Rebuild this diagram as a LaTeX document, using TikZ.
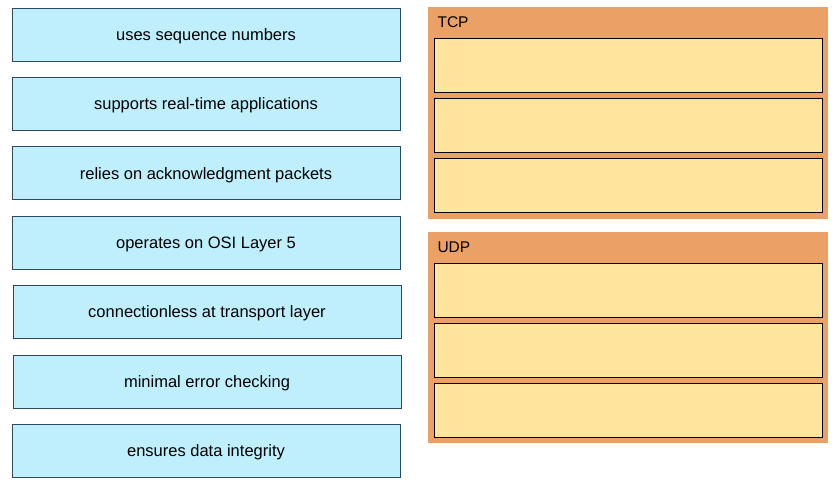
\documentclass[tikz,border=0pt]{standalone}
\usepackage{fontspec}
\setmainfont{Liberation Sans}

\definecolor{itemfill}{HTML}{BFEFFC}
\definecolor{itemdraw}{HTML}{2E4A5E}
\definecolor{panelfill}{HTML}{EBA066}
\definecolor{slotfill}{HTML}{FFE49C}

\tikzset{
    item/.style={draw=itemdraw, fill=itemfill, line width=0.9pt,
        minimum width=388pt, minimum height=53pt, outer sep=0pt,
        text height=12pt, text depth=0pt,
        font=\fontsize{16.5}{19}\selectfont},
    slot/.style={draw=black, fill=slotfill, line width=0.9pt,
        minimum width=388pt, minimum height=54pt, outer sep=0pt},
    paneltitle/.style={anchor=west, font=\fontsize{15.5}{18}\selectfont}
}

\begin{document}
\begin{tikzpicture}[
        x=1pt,
        y=-1pt
    ]

    \useasboundingbox[fill=white] (0,0) rectangle (840,488);

    % Answer options
    \node[item] (seq)   at (206,34.5)  {uses sequence numbers};
    \node[item] (rt)    at (206,103.5) {supports real-time applications};
    \node[item] (ack)   at (206,173)   {relies on acknowledgment packets};
    \node[item] (osi)   at (206,242.5) {operates on OSI Layer 5};
    \node[item] (conn)  at (207,311.5) {connectionless at transport layer};
    \node[item] (err)   at (207,381.5) {minimal error checking};
    \node[item] (integ) at (206,450.5) {ensures data integrity};

    % TCP panel
    \fill[panelfill] (428,7) rectangle (828,219);
    \node[paneltitle] (tcp) at (434,22) {TCP};
    \node[slot] (tcpa) at (628,65)  {};
    \node[slot] (tcpb) at (628,125) {};
    \node[slot] (tcpc) at (628,185) {};

    % UDP panel
    \fill[panelfill] (428,232) rectangle (828,443);
    \node[paneltitle] (udp) at (434,247) {UDP};
    \node[slot] (udpa) at (628,290) {};
    \node[slot] (udpb) at (628,350) {};
    \node[slot] (udpc) at (628,410) {};

\end{tikzpicture}
\end{document}
